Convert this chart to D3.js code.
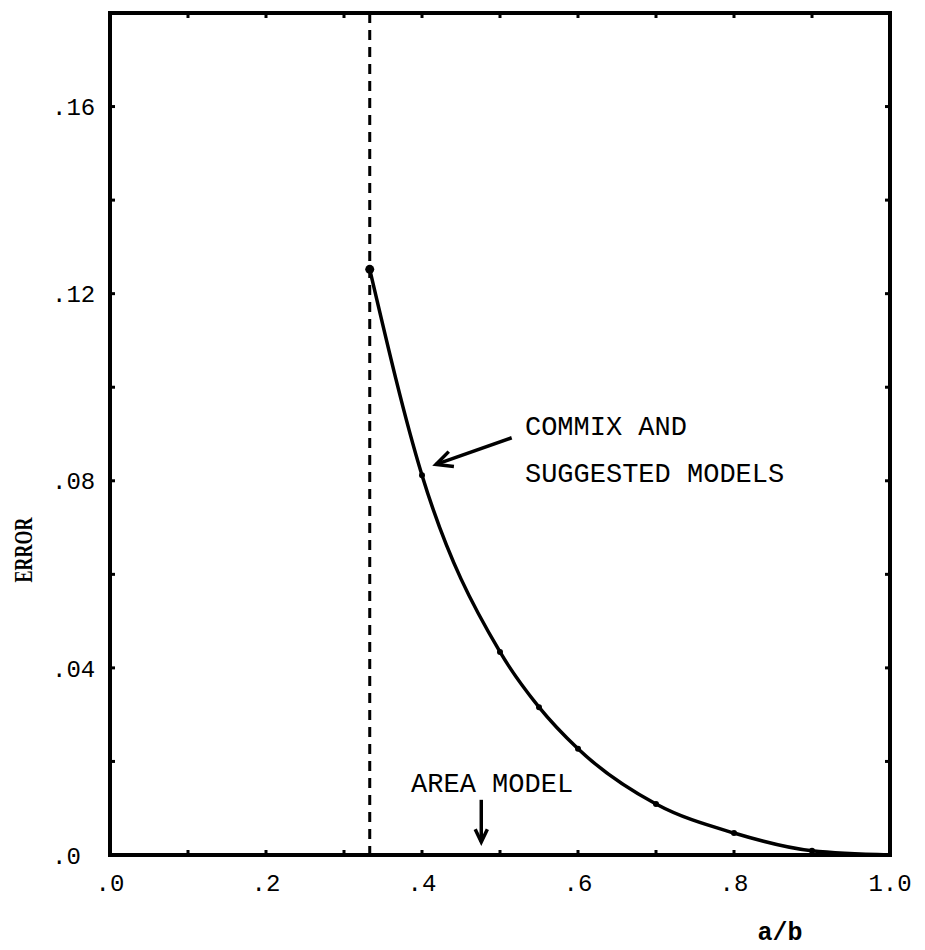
<!DOCTYPE html>
<html>
<head>
<meta charset="utf-8">
<script src="https://cdn.jsdelivr.net/npm/d3@7"></script>
<style>
  body { margin: 0; background: #fff; }
  text { fill: #000; }
</style>
</head>
<body>
<div id="chart"></div>
<script>
// values
const ratio = [0.333, 0.4, 0.5, 0.55, 0.6, 0.7, 0.8, 0.9, 1.0];
const error = [0.1252, 0.0812, 0.0434, 0.0316, 0.0227, 0.0109, 0.0047, 0.0009, 0];
const xTicks = [0, 0.2, 0.4, 0.6, 0.8, 1.0];
const xTickLabels = [".0", ".2", ".4", ".6", ".8", "1.0"];
const yTicks = [0, 0.04, 0.08, 0.12, 0.16];
const yTickLabels = [".0", ".04", ".08", ".12", ".16"];
const xMinor = d3.range(1, 10).map(i => i / 10);
const yMinor = d3.range(1, 10).map(i => i / 50);
const cutoff = 0.333;

const mono = "'Liberation Mono', 'DejaVu Sans Mono', monospace";

const width = 925, height = 950;
const svg = d3.select("#chart").append("svg")
  .attr("width", width).attr("height", height);

const x = d3.scaleLinear().domain([0, 1]).range([110, 890]);
const y = d3.scaleLinear().domain([0, 0.18]).range([855, 13]);

const data = ratio.map((r, i) => ({ r: r, e: error[i] }));

// frame
svg.append("rect")
  .attr("x", x(0)).attr("y", y(0.18))
  .attr("width", x(1) - x(0)).attr("height", y(0) - y(0.18))
  .attr("fill", "none").attr("stroke", "#000").attr("stroke-width", 4);

// small inward ticks on all four sides
let tk = svg.append("g").attr("stroke", "#000").attr("stroke-width", 3);
xMinor.forEach(v => {
  tk.append("line").attr("x1", x(v)).attr("x2", x(v)).attr("y1", y(0)).attr("y2", y(0) - 5);
  tk.append("line").attr("x1", x(v)).attr("x2", x(v)).attr("y1", y(0.18)).attr("y2", y(0.18) + 5);
});
yMinor.forEach(v => {
  tk.append("line").attr("x1", x(0)).attr("x2", x(0) + 5).attr("y1", y(v)).attr("y2", y(v));
  tk.append("line").attr("x1", x(1)).attr("x2", x(1) - 5).attr("y1", y(v)).attr("y2", y(v));
});

// tick labels
svg.append("g").selectAll("text").data(xTicks).enter().append("text")
  .attr("x", d => x(d)).attr("y", 891)
  .attr("text-anchor", "middle")
  .style("font-family", mono).style("font-size", "24px")
  .text((d, i) => xTickLabels[i]);

svg.append("g").selectAll("text").data(yTicks).enter().append("text")
  .attr("x", 52).attr("y", d => y(d)).attr("dy", "0.36em")
  .style("font-family", mono).style("font-size", "24px")
  .text((d, i) => yTickLabels[i]);

// axis titles
svg.append("text")
  .attr("x", 780).attr("y", 940).attr("text-anchor", "middle")
  .style("font-family", mono).style("font-size", "25px").style("font-weight", "bold")
  .text("a/b");

svg.append("text")
  .attr("transform", "translate(32,550) rotate(-90)")
  .attr("text-anchor", "middle")
  .attr("textLength", 65).attr("lengthAdjust", "spacingAndGlyphs")
  .style("font-family", "'Liberation Serif', serif").style("font-size", "26px")
  .style("font-weight", "bold")
  .text("ERROR");

// dashed cutoff line
svg.append("line")
  .attr("x1", x(cutoff)).attr("x2", x(cutoff))
  .attr("y1", y(0.18)).attr("y2", y(0))
  .attr("stroke", "#000").attr("stroke-width", 3)
  .attr("stroke-dasharray", "10,7");

// curve
const line = d3.line().x(d => x(d.r)).y(d => y(d.e)).curve(d3.curveMonotoneX);
svg.append("path").datum(data)
  .attr("fill", "none").attr("stroke", "#000").attr("stroke-width", 3.5)
  .attr("d", line);

svg.selectAll(".pt").data(data.slice(0, -1)).enter().append("circle")
  .attr("class", "pt")
  .attr("cx", d => x(d.r)).attr("cy", d => y(d.e))
  .attr("r", (d, i) => i === 0 ? 4.5 : 3)
  .attr("fill", "#000");

// annotations
function arrow(x1, y1, x2, y2, head) {
  const a = Math.atan2(y2 - y1, x2 - x1);
  svg.append("line")
    .attr("x1", x1).attr("y1", y1).attr("x2", x2).attr("y2", y2)
    .attr("stroke", "#000").attr("stroke-width", 3.5);
  const p = [
    [x2 - head * Math.cos(a - 0.45), y2 - head * Math.sin(a - 0.45)],
    [x2, y2],
    [x2 - head * Math.cos(a + 0.45), y2 - head * Math.sin(a + 0.45)]
  ];
  svg.append("path").attr("d", d3.line()(p))
    .attr("fill", "none").attr("stroke", "#000").attr("stroke-width", 3.5)
    .attr("stroke-linejoin", "miter");
}

arrow(x(0.515), y(0.0892), x(0.418), y(0.0835), 18);
arrow(x(0.476), y(0.0118), x(0.476), y(0.0028), 14);

const ann = svg.append("g").style("font-family", mono).style("font-size", "27px");
ann.append("text").attr("x", x(0.532)).attr("y", y(0.0898)).text("COMMIX AND");
ann.append("text").attr("x", x(0.532)).attr("y", y(0.0798)).text("SUGGESTED MODELS");
ann.append("text").attr("x", x(0.386)).attr("y", y(0.0135)).text("AREA MODEL");
</script>
</body>
</html>
